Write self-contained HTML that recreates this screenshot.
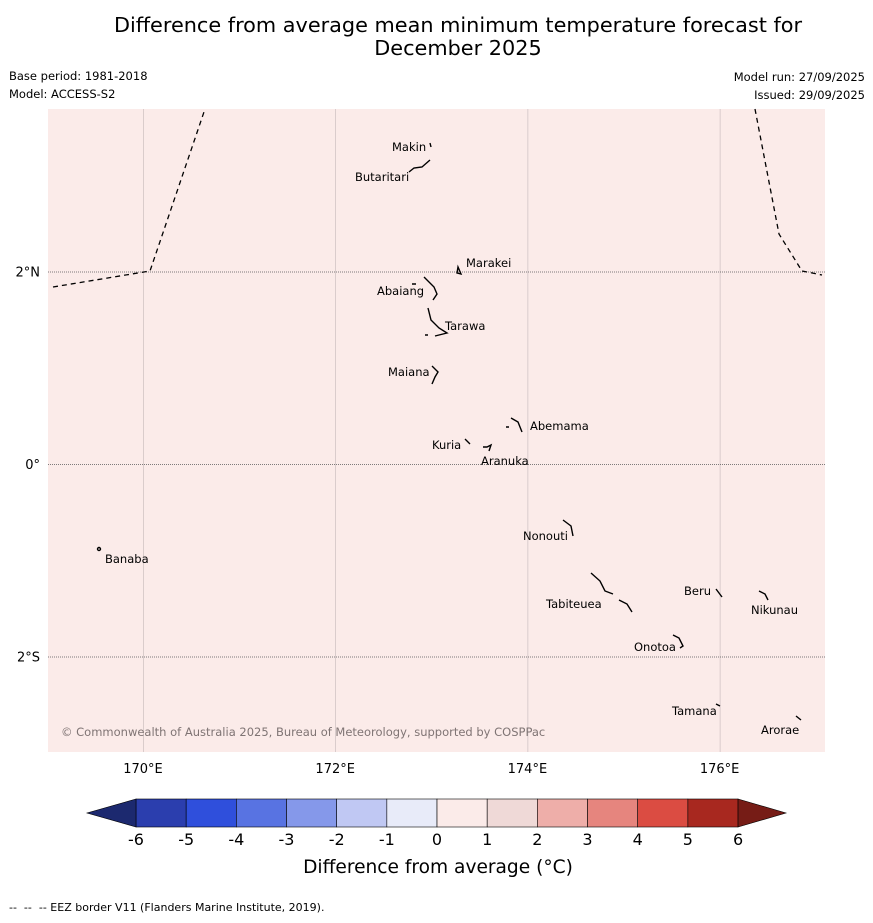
<!DOCTYPE html>
<html><head><meta charset="utf-8"><style>
body{margin:0;background:#fff;font-family:"DejaVu Sans","Liberation Sans",sans-serif;}
svg text{font-family:"DejaVu Sans","Liberation Sans",sans-serif;}
</style></head><body>
<svg id="c" width="873" height="919" viewBox="0 0 873 919" xmlns="http://www.w3.org/2000/svg">
<text x="458" y="32" font-size="20.8" text-anchor="middle">Difference from average mean minimum temperature forecast for</text>
<text x="458" y="55" font-size="20.8" text-anchor="middle">December 2025</text>
<text x="9" y="80" font-size="11.5">Base period: 1981-2018</text>
<text x="9" y="98" font-size="11.5">Model: ACCESS-S2</text>
<text x="865" y="81" font-size="11.5" text-anchor="end">Model run: 27/09/2025</text>
<text x="865" y="99" font-size="11.5" text-anchor="end">Issued: 29/09/2025</text>
<rect x="48" y="109" width="777" height="643" fill="#fbebe9"/>
<g id="grid"></g>
<g id="eez" fill="none" stroke="#000" stroke-width="1.3" stroke-dasharray="5,4">
<polyline points="53,287 150,271 205,109"/>
<polyline points="755,109 779,234 802,271 822,275"/>
</g>
<g id="islands" fill="none" stroke="#000" stroke-width="1.4">
<path d="M430,143 l1,4 M409,172 l5,-4 l8,-1 l8,-7"/>
<path d="M458,267 l-1,6 l4,1 z"/>
<path d="M424,277 l10,10 l3,7 l-4,6 M412,284 h4"/>
<path d="M428,308 l3,12 l8,8 l8,5 l-12,3 M425,335 h3"/>
<path d="M432,366 l6,6 l-3,5 l-3,7"/>
<path d="M511,418 l7,4 l4,10 M506,427 h3"/>
<path d="M465,439 l5,5 M483,447 h4 l4,-2 l-2,6"/>
<path d="M563,520 l8,6 l2,10"/>
<path d="M591,573 l9,8 l5,10 l8,3 M619,600 l8,4 l5,8"/>
<path d="M716,589 l6,8"/>
<path d="M759,591 l6,3 l3,6"/>
<path d="M673,635 l6,3 l4,8 l-3,2"/>
<path d="M716,704 l4,2"/>
<path d="M796,716 l5,4"/>
<circle cx="99" cy="549" r="1.5"/>
</g>
<g font-size="11.5">
<text x="392" y="151">Makin</text><text x="355" y="181">Butaritari</text>
<text x="466" y="267">Marakei</text><text x="377" y="295">Abaiang</text>
<text x="445" y="330">Tarawa</text><text x="388" y="376">Maiana</text>
<text x="530" y="430">Abemama</text><text x="432" y="449">Kuria</text>
<text x="481" y="465">Aranuka</text><text x="523" y="540">Nonouti</text>
<text x="105" y="563">Banaba</text><text x="684" y="595">Beru</text>
<text x="546" y="608">Tabiteuea</text><text x="751" y="614">Nikunau</text>
<text x="634" y="651">Onotoa</text><text x="672" y="715">Tamana</text>
<text x="761" y="734">Arorae</text>
</g>
<text x="61" y="736" font-size="11.5" fill="#7f7474">© Commonwealth of Australia 2025, Bureau of Meteorology, supported by COSPPac</text>
<g id="axes"></g>
<g id="cbar"></g>
<text x="438" y="873" font-size="18.6" text-anchor="middle">Difference from average (°C)</text>
<text x="9" y="911" font-size="11" xml:space="preserve">--  --  -- EEZ border V11 (Flanders Marine Institute, 2019).</text>
</svg>
<script>
const lonTicks=[170,172,174,176];
const latTicks=[2,0,-2];
const latLabels=["2°N","0°","2°S"];
const levels=[-6,-5,-4,-3,-2,-1,0,1,2,3,4,5,6];
const colors=["#2b3eae","#2f4fdc","#5873e2","#8598ea","#c0c8f3","#e8ebf9","#fbebe9","#efd9d7","#eeaea9","#e6857e","#db4c42","#a8281f"];
const underColor="#1c296f", overColor="#761c16";
const NS="http://www.w3.org/2000/svg";
const xLon=v=>143+(v-170)*96.1;
const yLat=v=>464-v*96.25;
const xCb=v=>136+(v+6)*50.17;
function mk(t,a,p){const e=document.createElementNS(NS,t);for(const k in a)e.setAttribute(k,a[k]);p.appendChild(e);return e;}
const grid=document.getElementById('grid'),axes=document.getElementById('axes'),cb=document.getElementById('cbar');
lonTicks.forEach(v=>{
 const l=mk('line',{x1:xLon(v)+0.5,x2:xLon(v)+0.5,y1:109,y2:752,stroke:'#c4b8b8','stroke-width':0.6},grid);
 
 
 const t=mk('text',{x:xLon(v),y:773,'font-size':13,'text-anchor':'middle'},axes);t.textContent=v+"°E";
 
 
});
latTicks.forEach((v,i)=>{
 const l=mk('line',{x1:48,x2:825,y1:yLat(v)+0.5,y2:yLat(v)+0.5,stroke:'#555','stroke-width':0.7,'stroke-dasharray':'1,1'},grid);
 
 
 const t=mk('text',{x:40,y:yLat(v)+5,'font-size':13,'text-anchor':'end'},axes);t.textContent=latLabels[i];
 
 
});
colors.forEach((c,i)=>{
 const r=mk('rect',{x:xCb(levels[i]),y:799,width:xCb(levels[i+1])-xCb(levels[i]),height:28,fill:c,stroke:'#000','stroke-width':0.6},cb);
 
 
});
const u=mk('polygon',{points:`${xCb(-6)},799 ${xCb(-6)},827 87,813`,fill:underColor,stroke:'#000','stroke-width':0.6},cb);


const o=mk('polygon',{points:`${xCb(6)},799 ${xCb(6)},827 786,813`,fill:overColor,stroke:'#000','stroke-width':0.6},cb);


levels.forEach(v=>{
 const t=mk('text',{x:xCb(v),y:845,'font-size':16,'text-anchor':'middle'},cb);t.textContent=v;
 
 
});
</script>
</body></html>
